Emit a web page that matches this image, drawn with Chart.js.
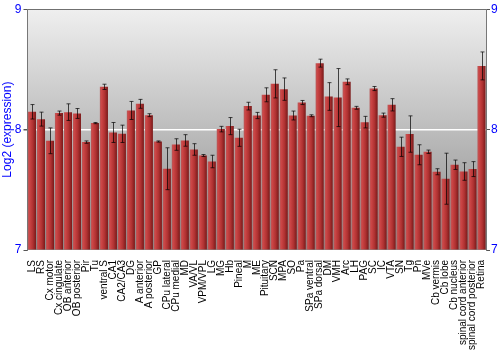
<!DOCTYPE html>
<html>
<head>
<meta charset="utf-8">
<script src="https://cdn.jsdelivr.net/npm/chart.js@4"></script>
<style>
  body { margin: 0; background: #fff; }
</style>
</head>
<body>
<canvas id="grafico" width="500" height="350"></canvas>
<script>
// Dados
const regioes = ['LS', 'RS', 'Cx motor', 'Cx cingulate', 'OB anterior', 'OB posterior', 'Pir', 'Tu',
  'ventral S', 'CA1', 'CA2/CA3', 'DG', 'A anterior', 'A posterior', 'GP', 'CPu lateral', 'CPu medial',
  'MD', 'VA/VL', 'VPM/VPL', 'LG', 'MG', 'Hb', 'Pineal', 'M', 'ME', 'Pituitary', 'SCN', 'MPA', 'SO',
  'Pa', 'SPa ventral', 'SPa dorsal', 'DM', 'VMH', 'Arc', 'LH', 'PAG', 'SC', 'IC', 'VTA', 'SN', 'Tg',
  'Pn', 'MVe', 'Cb vermis', 'Cb lobe', 'Cb nucleus', 'spinal cord anterior', 'spinal cord posterior', 'Retina'];
const valores = [8.148, 8.087, 7.907, 8.137, 8.145, 8.134, 7.896, 8.054,
  8.355, 7.976, 7.965, 8.159, 8.214, 8.120, 7.901, 7.675, 7.876,
  7.910, 7.835, 7.785, 7.735, 8.004, 8.029, 7.932, 8.195, 8.117, 8.289, 8.380, 8.336, 8.117,
  8.225, 8.115, 8.552, 8.275, 8.266, 8.397, 8.181, 8.062, 8.341, 8.120, 8.206, 7.857, 7.963,
  7.791, 7.816, 7.650, 7.592, 7.708, 7.652, 7.672, 8.529];
const erros = [0.06, 0.058, 0.107, 0.017, 0.069, 0.041, 0.01, 0.005,
  0.022, 0.083, 0.072, 0.075, 0.037, 0.012, 0.005, 0.174, 0.048,
  0.048, 0.048, 0.008, 0.052, 0.023, 0.071, 0.071, 0.032, 0.026, 0.058, 0.117, 0.093, 0.037,
  0.017, 0.008, 0.033, 0.115, 0.241, 0.024, 0.012, 0.048, 0.017, 0.017, 0.051, 0.080, 0.151,
  0.083, 0.014, 0.025, 0.212, 0.039, 0.073, 0.062, 0.116];
const ticksY = [7, 8, 9];

const AZUL = '#0000ff';
const FONTE = 'Arial, "Liberation Sans", sans-serif';

// Fundo degradê
const fundo = {
  id: 'fundo',
  beforeDraw(chart) {
    const { ctx, chartArea: a } = chart;
    const g = ctx.createLinearGradient(0, a.top, 0, a.bottom);
    g.addColorStop(0, '#efefef');
    g.addColorStop(1, '#8a8a8a');
    ctx.save();
    ctx.fillStyle = g;
    ctx.fillRect(a.left, a.top, a.right - a.left, a.bottom - a.top);
    ctx.restore();
  }
};

// Barras de erro
const barrasErro = {
  id: 'barrasErro',
  afterDatasetsDraw(chart) {
    const { ctx } = chart;
    const y = chart.scales.y;
    const meta = chart.getDatasetMeta(0);
    ctx.save();
    ctx.strokeStyle = 'rgba(0,0,0,0.7)';
    ctx.lineWidth = 1;
    meta.data.forEach((bar, i) => {
      const x = Math.round(bar.x) + 0.5;
      const y1 = y.getPixelForValue(valores[i] + erros[i]);
      const y2 = y.getPixelForValue(valores[i] - erros[i]);
      ctx.beginPath();
      ctx.moveTo(x, y1); ctx.lineTo(x, y2);
      ctx.moveTo(x - 2, y1); ctx.lineTo(x + 2, y1);
      ctx.moveTo(x - 2, y2); ctx.lineTo(x + 2, y2);
      ctx.stroke();
    });
    ctx.restore();
  }
};

function corBarra(c) {
  const ch = c.chart;
  if (!ch.chartArea || !ch.scales.x) return '#b03030';
  const x = ch.scales.x.getPixelForValue(c.dataIndex);
  const g = ch.ctx.createLinearGradient(x - 4, 0, x + 4, 0);
  g.addColorStop(0, '#b85a5a');
  g.addColorStop(0.2, '#cc4646');
  g.addColorStop(0.6, '#b03232');
  g.addColorStop(1, '#7a1a1a');
  return g;
}

new Chart(document.getElementById('grafico'), {
  type: 'bar',
  data: {
    labels: regioes,
    datasets: [{
      data: valores,
      base: 7,
      backgroundColor: corBarra,
      borderWidth: 0,
      categoryPercentage: 1,
      barPercentage: 0.9
    }]
  },
  options: {
    responsive: false,
    animation: false,
    layout: { padding: { top: 9, left: 0, right: 0, bottom: 0 } },
    plugins: { legend: { display: false }, tooltip: { enabled: false } },
    scales: {
      x: {
        grid: { display: false },
        border: { display: false },
        ticks: {
          autoSkip: false, maxRotation: 90, minRotation: 90, padding: 2,
          color: '#000', font: { family: FONTE, size: 10 }
        },
        afterFit: s => { s.height = 100; }
      },
      y: {
        position: 'left',
        min: 7, max: 9,
        afterBuildTicks: s => { s.ticks = ticksY.map(v => ({ value: v })); },
        grid: {
          color: c => c.tick && c.tick.value === 8 ? '#ffffff' : (c.tick && c.tick.value === 9 ? '#707070' : 'rgba(0,0,0,0)'),
          lineWidth: c => c.tick && c.tick.value === 8 ? 1.5 : 1,
          tickColor: '#555', tickLength: 4
        },
        border: { color: '#777' },
        ticks: { color: AZUL, padding: 2, font: { family: FONTE, size: 12 } },
        title: {
          display: true, text: 'Log2 (expression)', color: AZUL,
          padding: { top: 0, bottom: 0 }, font: { family: FONTE, size: 12 }
        },
        afterFit: s => { s.width = 27.5; }
      },
      y2: {
        position: 'right',
        min: 7, max: 9,
        afterBuildTicks: s => { s.ticks = ticksY.map(v => ({ value: v })); },
        grid: { drawOnChartArea: false, tickColor: '#555', tickLength: 4 },
        border: { color: '#777' },
        ticks: { color: AZUL, padding: 1, font: { family: FONTE, size: 12 } },
        afterFit: s => { s.width = 14; }
      }
    }
  },
  plugins: [fundo, barrasErro]
});
</script>
</body>
</html>
